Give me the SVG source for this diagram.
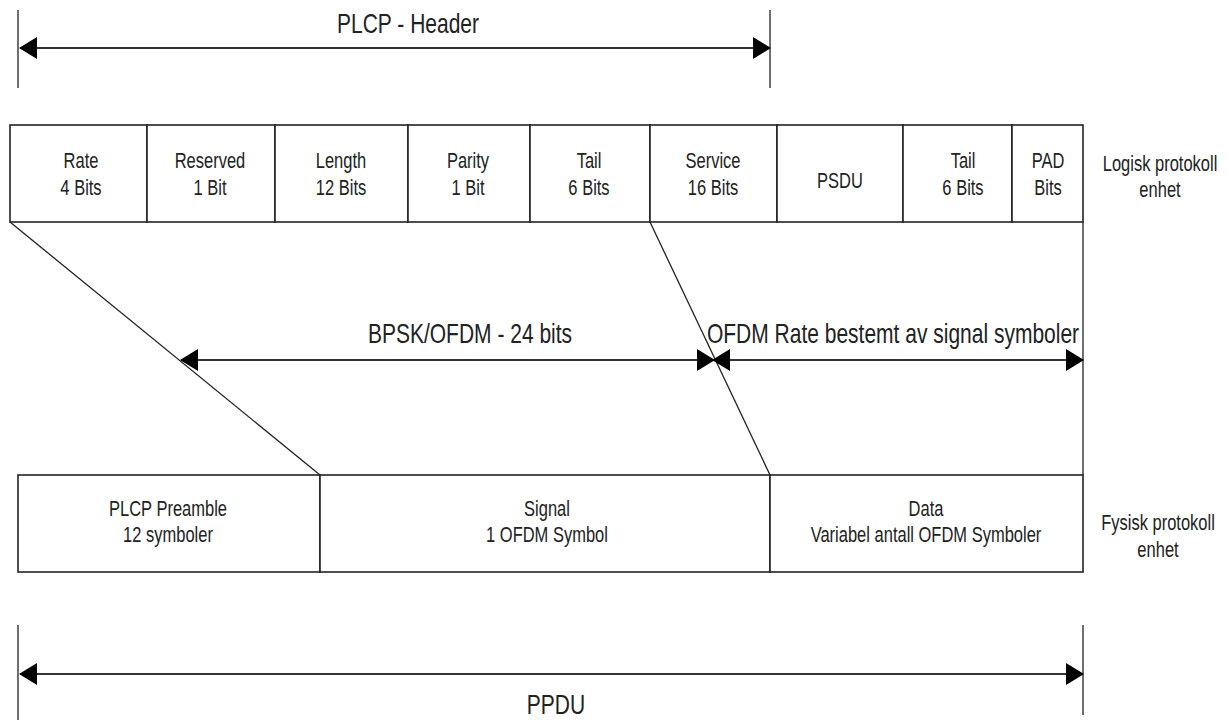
<svg xmlns="http://www.w3.org/2000/svg" width="1229" height="720" viewBox="0 0 1229 720">
<style>
.box{fill:#fff;stroke:#222;stroke-width:1.6}
.ln{fill:none;stroke:#222;stroke-width:1.3}
.arr{fill:none;stroke:#333;stroke-width:2.2}
.t{font-family:"Liberation Sans",Arial,sans-serif;font-size:16.5px;fill:#222;text-anchor:middle}
.big{font-family:"Liberation Sans",Arial,sans-serif;font-size:21px;fill:#222;text-anchor:middle}
</style>
<defs>
<marker id="ah" viewBox="0 0 18 22" refX="17" refY="11" markerWidth="18" markerHeight="22" markerUnits="userSpaceOnUse" orient="auto-start-reverse">
<path d="M0,0 L18,11 L0,22 Z" fill="#000"/>
</marker>
</defs>
<rect width="1229" height="720" fill="#fff"/>
<g id="plcp-header">
<line class="ln" x1="18" y1="10" x2="18" y2="88"/>
<line class="ln" x1="770" y1="10" x2="770" y2="88"/>
<text class="big" transform="matrix(1 0 0 1.3 408 33)">PLCP - Header</text>
</g>
<g id="top-row">
<g id="rate"><rect class="box" x="10" y="125" width="137" height="97"/><text class="t" transform="matrix(1 0 0 1.3 81 168)">Rate</text><text class="t" transform="matrix(1 0 0 1.3 81 195)">4 Bits</text></g>
<g id="reserved"><rect class="box" x="147" y="125" width="128" height="97"/><text class="t" transform="matrix(1 0 0 1.3 210 168)">Reserved</text><text class="t" transform="matrix(1 0 0 1.3 210 195)">1 Bit</text></g>
<g id="length"><rect class="box" x="275" y="125" width="133" height="97"/><text class="t" transform="matrix(1 0 0 1.3 341 168)">Length</text><text class="t" transform="matrix(1 0 0 1.3 341 195)">12 Bits</text></g>
<g id="parity"><rect class="box" x="408" y="125" width="122" height="97"/><text class="t" transform="matrix(1 0 0 1.3 468 168)">Parity</text><text class="t" transform="matrix(1 0 0 1.3 468 195)">1 Bit</text></g>
<g id="tail1"><rect class="box" x="530" y="125" width="120" height="97"/><text class="t" transform="matrix(1 0 0 1.3 589 168)">Tail</text><text class="t" transform="matrix(1 0 0 1.3 589 195)">6 Bits</text></g>
<g id="service"><rect class="box" x="650" y="125" width="127" height="97"/><text class="t" transform="matrix(1 0 0 1.3 713 168)">Service</text><text class="t" transform="matrix(1 0 0 1.3 713 195)">16 Bits</text></g>
<g id="psdu"><rect class="box" x="777" y="125" width="126" height="97"/><text class="t" transform="matrix(1 0 0 1.3 840 188)">PSDU</text></g>
<g id="tail2"><rect class="box" x="903" y="125" width="109" height="97"/><text class="t" transform="matrix(1 0 0 1.3 963 168)">Tail</text><text class="t" transform="matrix(1 0 0 1.3 963 195)">6 Bits</text></g>
<g id="pad"><rect class="box" x="1012" y="125" width="71" height="97"/><text class="t" transform="matrix(1 0 0 1.3 1048 168)">PAD</text><text class="t" transform="matrix(1 0 0 1.3 1048 195)">Bits</text></g>
<g id="logisk"><text class="t" transform="matrix(1 0 0 1.3 1160 171)">Logisk protokoll</text><text class="t" transform="matrix(1 0 0 1.3 1160 197)">enhet</text></g>
</g>
<g id="bottom-row">
<g id="preamble"><rect class="box" x="18" y="475" width="302" height="97"/><text class="t" transform="matrix(1 0 0 1.3 168 516)">PLCP Preamble</text><text class="t" transform="matrix(1 0 0 1.3 168 542)">12 symboler</text></g>
<g id="signal"><rect class="box" x="320" y="475" width="450" height="97"/><text class="t" transform="matrix(1 0 0 1.3 547 516)">Signal</text><text class="t" transform="matrix(1 0 0 1.3 547 542)">1 OFDM Symbol</text></g>
<g id="data"><rect class="box" x="770" y="475" width="313" height="97"/><text class="t" transform="matrix(1 0 0 1.3 926 516)">Data</text><text class="t" transform="matrix(1 0 0 1.3 926 542)">Variabel antall OFDM Symboler</text></g>
<g id="fysisk"><text class="t" transform="matrix(1 0 0 1.3 1158 530)">Fysisk protokoll</text><text class="t" transform="matrix(1 0 0 1.3 1158 557)">enhet</text></g>
</g>
<g id="ppdu">
<line class="ln" x1="18" y1="625" x2="18" y2="720"/>
<line class="ln" x1="1083" y1="625" x2="1083" y2="715"/>
<text class="big" transform="matrix(1 0 0 1.3 556 714)">PPDU</text>
</g>
<g id="labels">
<text class="big" transform="matrix(1 0 0 1.3 470 343)">BPSK/OFDM - 24 bits</text>
<text class="big" transform="matrix(1 0 0 1.3 893 343)">OFDM Rate bestemt av signal symboler</text>
</g>
<g id="connectors">
<line class="ln" x1="10" y1="222" x2="320" y2="475"/>
<line class="ln" x1="650" y1="222" x2="770" y2="475"/>
<line class="ln" x1="1083" y1="222" x2="1083" y2="475"/>
<line class="arr" x1="20" y1="48" x2="770" y2="48" marker-start="url(#ah)" marker-end="url(#ah)"/>
<line class="arr" x1="181" y1="360" x2="714" y2="360" marker-start="url(#ah)" marker-end="url(#ah)"/>
<line class="arr" x1="713" y1="360" x2="1083" y2="360" marker-start="url(#ah)" marker-end="url(#ah)"/>
<line class="arr" x1="20" y1="674" x2="1083" y2="674" marker-start="url(#ah)" marker-end="url(#ah)"/>
</g>
</svg>
